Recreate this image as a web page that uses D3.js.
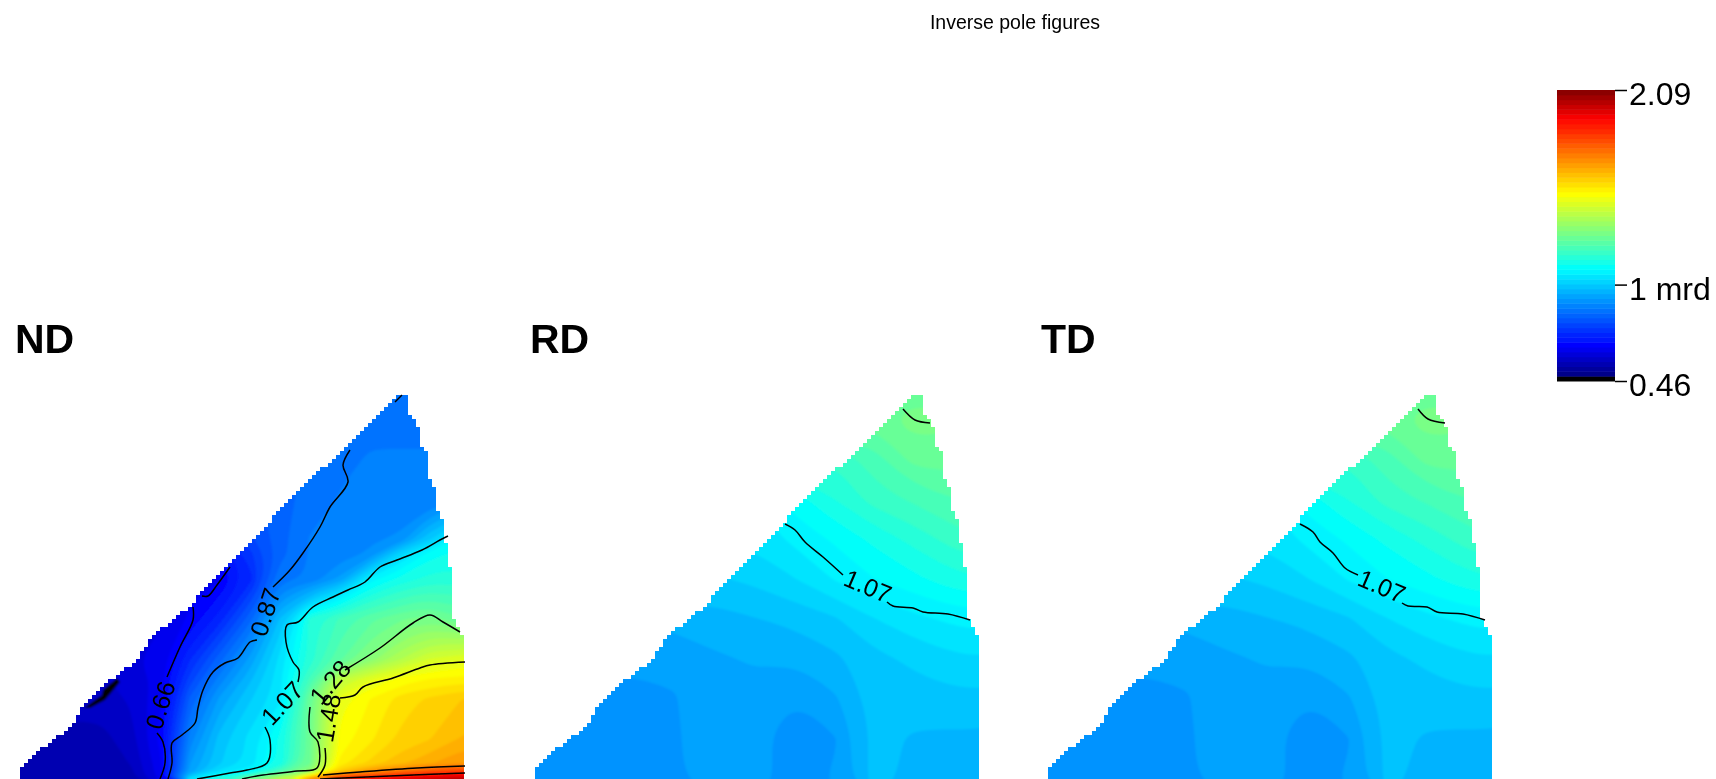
<!DOCTYPE html>
<html>
<head>
<meta charset="utf-8">
<title>Inverse pole figures</title>
<script src="https://cdn.jsdelivr.net/npm/d3@7"></script>
<style>
  html, body { margin: 0; padding: 0; background: #fff; overflow: hidden; }
  text { font-family: "Liberation Sans", Arial, sans-serif; fill: #000; }
</style>
</head>
<body>
<div id="chart"></div>
<script>
const panelNames = ["ND", "RD", "TD"];

// colour bar, mrd
const colorValues = [0.46, 0.487, 0.49, 0.66, 1.09, 1.51, 1.93, 2.09];
const colorHex = ["#000000", "#000000", "#000080", "#0000ff", "#00ffff", "#ffff00", "#ff0000", "#800000"];
const legendTicks = [2.09, 1, 0.46];
const legendLabels = ["2.09", "1 mrd", "0.46"];

// triangle outline (u across, v up)
const outlineU = [382, 389, 389, 398, 399, 408, 409, 417, 418, 425, 427, 433, 434, 443, 444, 446, 444, 2, 0, 5, 17, 30, 52, 63, 87, 117, 132, 152, 173, 182, 210, 228, 247, 277, 330, 373];
const outlineV = [386, 381, 366, 352, 337, 324, 302, 287, 269, 252, 219, 207, 161, 142, 14, 4, 0, 0, 9, 16, 27, 36, 54, 72, 96, 119, 142, 159, 174, 189, 217, 232, 254, 289, 334, 379];

// sampled intensity, rows from the bottom of each triangle
const ndCols = [-10, 20, 50, 80, 110, 140, 170, 200, 230, 260, 290, 320, 350, 380, 410, 440, 470];
const ndRows = [0, 8, 16, 40, 80, 100, 120, 160, 200, 225, 240, 280, 320, 360, 400];
const ndValues = [
  [.55, .55, .55, .55, .55, .63, 1.05, 1.15, 1.29, 1.4, 1.7, 1.9, 1.93, 1.97, 2.0, 2.03, 2.05],
  [.55, .55, .55, .55, .56, .64, .93, 1.04, 1.08, 1.21, 1.33, 1.6, 1.68, 1.74, 1.8, 1.83, 1.85],
  [.55, .55, .55, .55, .57, .64, .92, 1.0, 1.04, 1.12, 1.27, 1.53, 1.58, 1.62, 1.65, 1.68, 1.69],
  [.56, .56, .56, .56, .58, .66, .88, .99, 1.04, 1.12, 1.27, 1.5, 1.54, 1.58, 1.6, 1.63, 1.64],
  [.58, .58, .58, .58, .6, .64, .82, .93, 1.0, 1.05, 1.27, 1.48, 1.52, 1.56, 1.58, 1.6, 1.61],
  [.59, .59, .59, .59, .61, .63, .77, .88, .97, 1.05, 1.2, 1.4, 1.46, 1.5, 1.52, 1.53, 1.53],
  [.6, .6, .6, .6, .62, .63, .73, .83, .93, 1.04, 1.15, 1.24, 1.31, 1.38, 1.44, 1.46, 1.47],
  [.62, .62, .62, .62, .62, .62, .655, .72, .83, .98, 1.15, 1.2, 1.24, 1.27, 1.29, 1.25, 1.25],
  [.62, .62, .62, .62, .62, .62, .64, .65, .72, .86, .87, .93, 1.07, 1.12, 1.15, 1.15, 1.15],
  [.63, .63, .63, .63, .63, .63, .65, .68, .75, .83, .87, .88, .9, 1.02, 1.1, 1.12, 1.12],
  [.64, .64, .64, .64, .64, .65, .66, .72, .78, .83, .87, .89, .89, .9, 1.0, 1.1, 1.1],
  [.7, .7, .7, .7, .7, .7, .7, .75, .8, .83, .85, .87, .87, .87, .87, .88, .88],
  [.8, .8, .8, .8, .8, .8, .8, .8, .8, .82, .85, .86, .87, .87, .87, .87, .87],
  [.85, .85, .85, .85, .85, .85, .85, .85, .85, .85, .85, .85, .86, .86, .86, .86, .86],
  [.85, .85, .85, .85, .85, .85, .85, .85, .85, .85, .85, .85, .86, .86, .86, .86, .86]
];

const rdCols = [-20, 20, 60, 100, 140, 180, 220, 260, 300, 340, 380, 420, 460];
const rdRows = [0, 40, 80, 120, 160, 200, 240, 280, 320, 360, 400];
const rdValues = [
  [.91, .91, .91, .91, .918, .935, .935, .91, .925, .99, .965, .965, .965],
  [.91, .91, .91, .91, .918, .94, .93, .905, .92, .985, .972, .97, .97],
  [.91, .91, .91, .912, .92, .945, .94, .922, .945, .99, .99, .995, .995],
  [.93, .93, .93, .93, .928, .945, .952, .953, .97, .995, 1.01, 1.025, 1.03],
  [.95, .95, .95, .95, .96, .965, .975, .985, 1.0, 1.03, 1.05, 1.065, 1.07],
  [1.0, 1.0, 1.0, 1.0, 1.0, 1.0, 1.01, 1.03, 1.06, 1.085, 1.105, 1.13, 1.14],
  [1.03, 1.03, 1.03, 1.03, 1.03, 1.03, 1.04, 1.065, 1.09, 1.12, 1.15, 1.18, 1.2],
  [1.06, 1.06, 1.06, 1.06, 1.06, 1.06, 1.06, 1.1, 1.14, 1.18, 1.2, 1.22, 1.23],
  [1.17, 1.17, 1.17, 1.17, 1.17, 1.17, 1.17, 1.17, 1.17, 1.21, 1.26, 1.26, 1.26],
  [1.26, 1.26, 1.26, 1.26, 1.26, 1.26, 1.26, 1.26, 1.26, 1.26, 1.29, 1.28, 1.28],
  [1.25, 1.25, 1.25, 1.25, 1.25, 1.25, 1.25, 1.25, 1.25, 1.25, 1.25, 1.25, 1.25]
];

const tdCols = rdCols;
const tdRows = rdRows;
const tdValues = [
  [.91, .91, .91, .91, .918, .935, .935, .91, .925, .985, .965, .965, .965],
  [.91, .91, .91, .91, .918, .94, .93, .905, .92, .985, .972, .97, .97],
  [.91, .91, .91, .912, .92, .945, .94, .922, .945, .99, .99, .995, .995],
  [.93, .93, .93, .93, .928, .945, .952, .953, .97, .995, 1.01, 1.025, 1.03],
  [.95, .95, .95, .95, .96, .965, .975, .985, 1.0, 1.03, 1.05, 1.065, 1.07],
  [1.0, 1.0, 1.0, 1.0, 1.0, 1.0, 1.01, 1.03, 1.06, 1.085, 1.105, 1.13, 1.14],
  [1.03, 1.03, 1.03, 1.03, 1.03, 1.03, 1.04, 1.065, 1.09, 1.12, 1.15, 1.18, 1.2],
  [1.06, 1.06, 1.06, 1.06, 1.06, 1.06, 1.06, 1.1, 1.14, 1.18, 1.2, 1.22, 1.23],
  [1.17, 1.17, 1.17, 1.17, 1.17, 1.17, 1.17, 1.17, 1.17, 1.21, 1.26, 1.26, 1.26],
  [1.26, 1.26, 1.26, 1.26, 1.26, 1.26, 1.26, 1.26, 1.26, 1.26, 1.29, 1.28, 1.28],
  [1.25, 1.25, 1.25, 1.25, 1.25, 1.25, 1.25, 1.25, 1.25, 1.25, 1.25, 1.25, 1.25]
];

// the very low spot on the ND edge
const ndLowPatch = [[64, 71], [82, 84], [83, 89], [97, 101], [100, 97], [85, 79], [70, 71]];

// isolines, [u, v] pieces, broken where the label sits
const ndIsolines = [
  [[173, 172], [173, 159], [160, 132], [147, 102]],
  [[137, 46], [143, 37], [145, 16], [140, 0]],
  [[210, 212], [197, 194], [188, 183], [182, 183]],
  [[382, 384], [375, 377]],
  [[330, 329], [323, 314], [328, 297], [310, 272], [300, 252], [283, 226], [270, 209], [253, 192]],
  [[237, 139], [230, 137], [218, 121], [205, 116], [193, 107], [183, 89], [178, 71], [175, 56], [162, 44], [152, 36], [152, 16], [148, 0]],
  [[428, 243], [420, 239], [402, 229], [377, 219], [360, 212], [345, 197], [328, 189], [313, 182], [293, 172], [278, 157], [267, 154], [266, 137], [273, 117], [279, 109], [278, 97]],
  [[245, 52], [250, 39], [247, 16], [227, 9], [210, 6], [177, 0]],
  [[222, 0], [243, 4], [277, 8], [297, 11], [298, 37], [290, 47], [290, 72]],
  [[325, 109], [360, 131], [393, 156], [410, 164], [423, 157], [440, 147]],
  [[305, 31], [305, 14], [298, 2]],
  [[320, 81], [335, 84], [343, 92], [373, 101], [400, 111], [410, 114], [445, 117]],
  [[303, 4], [340, 7], [397, 11], [445, 13]],
  [[300, 0], [393, 4], [445, 6]]
];
const rdIsolines = [
  [[368, 370], [380, 359], [395, 356]],
  [[250, 255], [260, 249], [270, 237], [288, 222], [308, 204]],
  [[352, 177], [358, 173], [378, 171], [388, 167], [413, 165], [435, 159]]
];
const tdIsolines = [
  [[370, 370], [380, 360], [397, 356]],
  [[252, 255], [265, 247], [272, 237], [285, 226], [297, 211], [310, 204]],
  [[354, 176], [360, 173], [379, 172], [389, 167], [415, 165], [437, 159]]
];

// contour labels: text, u, v, angle
const ndLabels = [
  { text: "0.66", u: 140, v: 74, angle: -73 },
  { text: "0.87", u: 245, v: 167, angle: -72 },
  { text: "1.07", u: 262, v: 76, angle: -47 },
  { text: "1.28", u: 310, v: 97, angle: -50 },
  { text: "1.48", u: 308, v: 61, angle: -80 }
];
const rdLabels = [{ text: "1.07", u: 333, v: 193, angle: 23 }];
const tdLabels = [{ text: "1.07", u: 334, v: 193, angle: 23 }];

const width = 1716;
const height = 779;
const bandStep = 1.63 / 60;
const rasterStep = 4;

const panels = [
  { name: panelNames[0], left: 20, labelX: 15, cols: ndCols, rows: ndRows, values: ndValues, isolines: ndIsolines, labels: ndLabels },
  { name: panelNames[1], left: 535, labelX: 530, cols: rdCols, rows: rdRows, values: rdValues, isolines: rdIsolines, labels: rdLabels },
  { name: panelNames[2], left: 1048, labelX: 1041, cols: tdCols, rows: tdRows, values: tdValues, isolines: tdIsolines, labels: tdLabels }
];

const color = d3.scaleLinear()
  .domain(colorValues)
  .range(colorHex);

const thresholds = d3.range(0, 60).map(k => 0.46 + k * bandStep);
const outline = outlineU.map((u, i) => [u, outlineV[i]]);

const svg = d3.select("#chart")
  .append("svg")
  .attr("width", width)
  .attr("height", height)
  .style("display", "block");

const defs = svg.append("defs");

// the source is a slightly blown up bitmap
const addBlur = (id, amount) => defs.append("filter")
  .attr("id", id)
  .attr("x", 0)
  .attr("y", 0)
  .attr("width", width)
  .attr("height", height)
  .attr("filterUnits", "userSpaceOnUse")
  .append("feGaussianBlur")
  .attr("stdDeviation", amount);

addBlur("soft", 0.6);
addBlur("softer", 1.2);

const root = svg.append("g")
  .attr("filter", "url(#soft)");

root.append("rect")
  .attr("width", width)
  .attr("height", height)
  .attr("fill", "#fff");

root.append("text")
  .attr("x", 1015)
  .attr("y", 29)
  .attr("text-anchor", "middle")
  .style("font-size", "19.5px")
  .text("Inverse pole figures");

panels.forEach((p, n) => {
  const x = d3.scaleLinear().domain([0, 446]).range([p.left, p.left + 446]);
  const y = d3.scaleLinear().domain([0, 387]).range([779, 392]);

  // grid index to figure units, rows are not evenly spaced
  const colScale = d3.scaleLinear().domain(p.cols.map((_, i) => i + 0.5)).range(p.cols);
  const rowScale = d3.scaleLinear().domain(p.rows.map((_, i) => i + 0.5)).range(p.rows);

  const contours = d3.contours()
    .size([p.cols.length, p.rows.length])
    .thresholds(thresholds)(p.values.flat());

  const ringLine = d3.line()
    .x(d => x(colScale(d[0])))
    .y(d => y(rowScale(d[1])))
    .curve(d3.curveBasisClosed);

  const bandPath = d => d.coordinates
    .flatMap(polygon => polygon.map(ring => ringLine(ring.slice(0, -1))))
    .join("");

  // stair stepped edge, the figure is sampled on a coarse raster
  const cells = [];
  d3.range(-rasterStep, 450, rasterStep).forEach(u => {
    d3.range(0, 390, rasterStep).forEach(v => {
      if (d3.polygonContains(outline, [u + rasterStep / 2, v + rasterStep / 2])) {
        cells.push(`M${x(u)},${y(v + rasterStep)}h${rasterStep}v${rasterStep}h${-rasterStep}z`);
      }
    });
  });

  defs.append("clipPath")
    .attr("id", `mask${n}`)
    .append("path")
    .attr("d", cells.join(""));

  const g = root.append("g");

  g.append("text")
    .attr("x", p.labelX)
    .attr("y", 353)
    .style("font-size", "41px")
    .style("font-weight", "bold")
    .text(p.name);

  const field = g.append("g")
    .attr("clip-path", `url(#mask${n})`)
    .append("g")
    .attr("filter", "url(#softer)");

  field.append("rect")
    .attr("x", x(-30))
    .attr("y", y(400))
    .attr("width", 520)
    .attr("height", 420)
    .attr("fill", color(d3.min(p.values.flat())));

  field.selectAll("path.band")
    .data(contours)
    .join("path")
    .attr("class", "band")
    .attr("d", bandPath)
    .attr("fill", d => color(d.value + bandStep / 2));

  if (p.name === "ND") {
    field.append("path")
      .attr("d", d3.line().x(d => x(d[0])).y(d => y(d[1])).curve(d3.curveLinearClosed)(ndLowPatch))
      .attr("fill", "#000");
  }

  const line = d3.line()
    .x(d => x(d[0]))
    .y(d => y(d[1]))
    .curve(d3.curveCatmullRom.alpha(0.5));

  g.selectAll("path.iso")
    .data(p.isolines)
    .join("path")
    .attr("class", "iso")
    .attr("d", line)
    .attr("fill", "none")
    .attr("stroke", "#000")
    .attr("stroke-width", 1.5);

  g.selectAll("text.level")
    .data(p.labels)
    .join("text")
    .attr("class", "level")
    .attr("transform", d => `translate(${x(d.u)},${y(d.v)}) rotate(${d.angle})`)
    .attr("text-anchor", "middle")
    .attr("dy", "0.36em")
    .style("font-size", "25px")
    .text(d => d.text);
});

// colour bar
const legendY = d3.scaleLinear().domain([0.46, 2.09]).range([381, 90]);

const legend = root.append("g");

legend.selectAll("rect")
  .data(thresholds)
  .join("rect")
  .attr("x", 1557)
  .attr("y", d => legendY(d + bandStep))
  .attr("width", 58)
  .attr("height", d => legendY(d) - legendY(d + bandStep) + 0.5)
  .attr("fill", d => color(d + bandStep / 2));

legend.append("g")
  .attr("transform", "translate(1615,0)")
  .call(d3.axisRight(legendY)
    .tickValues(legendTicks)
    .tickFormat((d, i) => legendLabels[i])
    .tickSize(12)
    .tickPadding(2))
  .call(g => g.select(".domain").remove())
  .call(g => g.selectAll("line").attr("stroke-width", 1.5))
  .call(g => g.selectAll("text")
    .attr("dy", "0.45em")
    .style("font-family", '"Liberation Sans", Arial, sans-serif')
    .style("font-size", "32px"));
</script>
</body>
</html>
